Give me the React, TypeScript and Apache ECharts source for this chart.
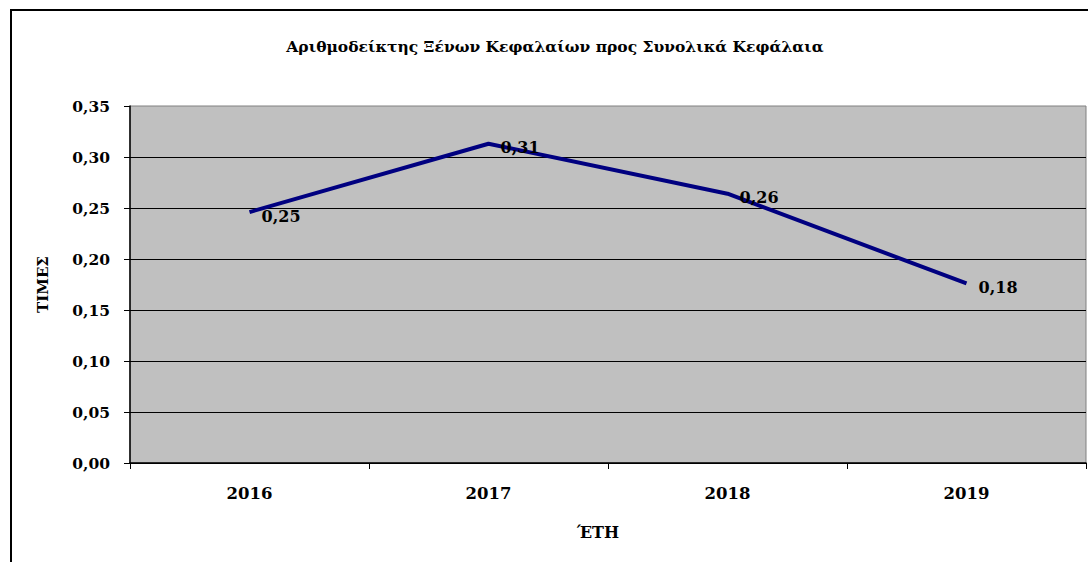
import React, { useEffect, useRef } from "react";
import * as echarts from "echarts";

const years = ["2016", "2017", "2018", "2019"];
const ratioValues = [0.246, 0.313, 0.264, 0.176];
const yTicks = { min: 0, max: 0.35, interval: 0.05 };
const titleText = "Αριθμοδείκτης Ξένων Κεφαλαίων προς Συνολικά Κεφάλαια";
const yAxisName = "ΤΙΜΕΣ";
const xAxisName = "ΈΤΗ";

const FONT = '"DejaVu Serif", "Liberation Serif", serif';
const fmt = (v: number) => v.toFixed(2).replace(".", ",");

export default function App() {
  const ref = useRef<HTMLDivElement>(null);
  useEffect(() => {
    document.body.style.margin = "0";
    const chart = echarts.init(ref.current!, null, { renderer: "svg" });
    chart.setOption({
      animation: false,
      backgroundColor: "#ffffff",
      textStyle: { fontFamily: FONT },
      title: {
        text: titleText,
        left: 550,
        textAlign: "center",
        top: 33,
        textStyle: { fontFamily: FONT, fontWeight: "bold", fontSize: 15.5, color: "#000" },
      },
      graphic: [
        {
          type: "rect",
          shape: { x: 11, y: 10, width: 1100, height: 600 },
          style: { fill: "none", stroke: "#000", lineWidth: 2 },
          z: 100,
        },
      ],
      grid: {
        left: 130,
        right: 2,
        top: 106,
        bottom: 99,
        show: true,
        backgroundColor: "#C0C0C0",
        borderColor: "#808080",
        borderWidth: 1,
      },
      xAxis: {
        type: "category",
        data: years,
        boundaryGap: true,
        name: xAxisName,
        nameLocation: "middle",
        nameGap: 61,
        nameTextStyle: {
          fontFamily: FONT,
          fontWeight: "bold",
          fontSize: 16,
          color: "#000",
          padding: [0, 20, 0, 0],
        },
        axisLine: { show: true, lineStyle: { color: "#000", width: 1.5 } },
        axisTick: { show: true, length: 6, lineStyle: { color: "#000" } },
        axisLabel: { fontFamily: FONT, fontWeight: "bold", fontSize: 16.5, color: "#000", margin: 22 },
        splitLine: { show: false },
      },
      yAxis: {
        type: "value",
        min: yTicks.min,
        max: yTicks.max,
        interval: yTicks.interval,
        name: yAxisName,
        nameLocation: "middle",
        nameGap: 80,
        nameTextStyle: { fontFamily: FONT, fontWeight: "bold", fontSize: 15, color: "#000" },
        axisLine: { show: true, lineStyle: { color: "#000", width: 1.5 } },
        axisTick: { show: true, length: 6, lineStyle: { color: "#000" } },
        axisLabel: {
          fontFamily: FONT,
          fontWeight: "bold",
          fontSize: 15.5,
          color: "#000",
          margin: 20,
          formatter: (v: number) => fmt(v),
        },
        splitLine: { show: true, showMaxLine: false, lineStyle: { color: "#000", width: 1 } },
      },
      series: [
        {
          type: "line",
          data: ratioValues,
          symbol: "circle",
          symbolSize: 0.1,
          itemStyle: { color: "#000080" },
          lineStyle: { color: "#000080", width: 4 },
          label: {
            show: true,
            position: "right",
            distance: 12,
            offset: [0, 4],
            fontFamily: FONT,
            fontWeight: "bold",
            fontSize: 16,
            color: "#000",
            formatter: (p: any) => fmt(p.value),
          },
        },
      ],
    });
    return () => chart.dispose();
  }, []);
  return (
    <div
      ref={ref}
      style={{ position: "fixed", left: 0, top: 0, width: 1088, height: 562 }}
    />
  );
}
